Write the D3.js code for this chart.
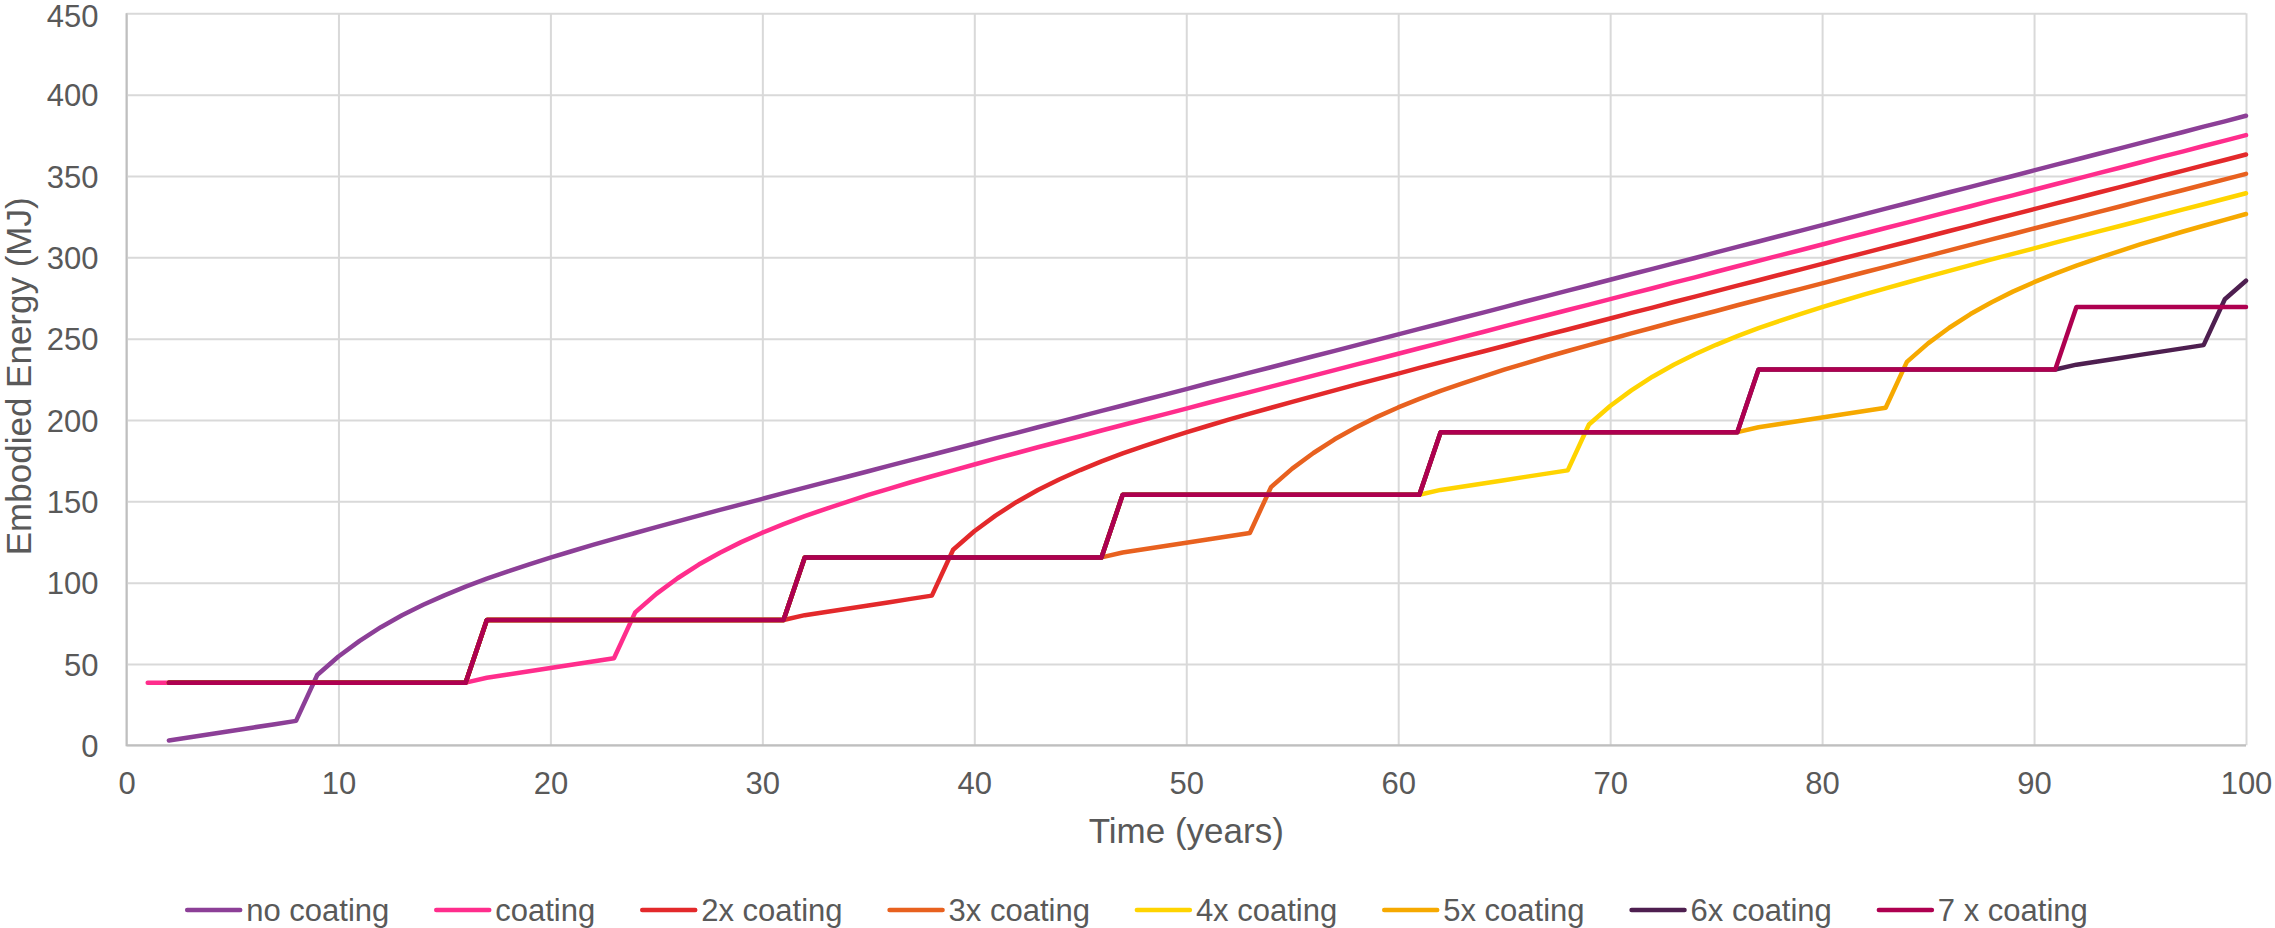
<!DOCTYPE html>
<html lang="en">
<head>
<meta charset="UTF-8">
<title>Embodied Energy</title>
<script src="https://cdn.jsdelivr.net/npm/d3@7"></script>
<style>
  body { margin: 0; background: #ffffff; }
  text { font-family: "Liberation Sans", Arial, sans-serif; fill: #595959; }
</style>
</head>
<body>
<svg width="2275" height="928"></svg>

<script>
// years on the x axis
var years = [
  1, 2, 3, 4, 5, 6, 7, 8, 9, 10, 11, 12, 13, 14, 15, 16, 17, 18, 19, 20,
  21, 22, 23, 24, 25, 26, 27, 28, 29, 30, 31, 32, 33, 34, 35, 36, 37, 38, 39, 40,
  41, 42, 43, 44, 45, 46, 47, 48, 49, 50, 51, 52, 53, 54, 55, 56, 57, 58, 59, 60,
  61, 62, 63, 64, 65, 66, 67, 68, 69, 70, 71, 72, 73, 74, 75, 76, 77, 78, 79, 80,
  81, 82, 83, 84, 85, 86, 87, 88, 89, 90, 91, 92, 93, 94, 95, 96, 97, 98, 99, 100
];

var xTicks = [0, 10, 20, 30, 40, 50, 60, 70, 80, 90, 100];
var yTicks = [0, 50, 100, 150, 200, 250, 300, 350, 400, 450];

var seriesNames = ["no coating", "coating", "2x coating", "3x coating", "4x coating", "5x coating", "6x coating", "7 x coating"];
var seriesColors = ["#8c3f97", "#ff2d8c", "#e3292b", "#e8611f", "#ffd400", "#f6a900", "#4e1f50", "#ae0050"];

// one value per year, null where the series has no point
var noCoating = [
  null, 3, 5, 7, 9, 11, 13, 15, 43.2, 54.6,
  64.2, 72.6, 79.9, 86.4, 92.2, 97.5, 102.4, 106.9, 111.2, 115.4,
  119.3, 123.2, 126.9, 130.5, 134.1, 137.7, 141.2, 144.7, 148.1, 151.5,
  155.0, 158.4, 161.8, 165.1, 168.5, 171.9, 175.3, 178.6, 182.0, 185.4,
  188.8, 192.1, 195.5, 198.8, 202.2, 205.6, 208.9, 212.3, 215.6, 219.0,
  222.4, 225.7, 229.1, 232.4, 235.8, 239.2, 242.5, 245.9, 249.2, 252.6,
  256.0, 259.3, 262.7, 266.0, 269.4, 272.8, 276.1, 279.5, 282.8, 286.2,
  289.6, 292.9, 296.3, 299.6, 303.0, 306.4, 309.7, 313.1, 316.4, 319.8,
  323.2, 326.5, 329.9, 333.2, 336.6, 340.0, 343.3, 346.7, 350.0, 353.4,
  356.8, 360.1, 363.5, 366.8, 370.2, 373.6, 376.9, 380.3, 383.6, 387.0
];

var coating = [
  38.5, 38.5, 38.5, 38.5, 38.5, 38.5, 38.5, 38.5, 38.5, 38.5,
  38.5, 38.5, 38.5, 38.5, 38.5, 38.5, 41.5, 43.5, 45.5, 47.5,
  49.5, 51.5, 53.5, 81.7, 93.1, 102.7, 111.1, 118.4, 124.9, 130.7,
  136.0, 140.9, 145.4, 149.7, 153.9, 157.8, 161.7, 165.4, 169.0, 172.6,
  176.2, 179.7, 183.2, 186.6, 190.0, 193.5, 196.9, 200.3, 203.6, 207.0,
  210.4, 213.8, 217.1, 220.5, 223.9, 227.3, 230.6, 234.0, 237.3, 240.7,
  244.1, 247.4, 250.8, 254.1, 257.5, 260.9, 264.2, 267.6, 270.9, 274.3,
  277.7, 281.0, 284.4, 287.7, 291.1, 294.5, 297.8, 301.2, 304.5, 307.9,
  311.3, 314.6, 318.0, 321.3, 324.7, 328.1, 331.4, 334.8, 338.1, 341.5,
  344.9, 348.2, 351.6, 354.9, 358.3, 361.7, 365.0, 368.4, 371.7, 375.1
];

var coating2x = [
  null, 38.5, 38.5, 38.5, 38.5, 38.5, 38.5, 38.5, 38.5, 38.5,
  38.5, 38.5, 38.5, 38.5, 38.5, 38.5, 77, 77, 77, 77,
  77, 77, 77, 77, 77, 77, 77, 77, 77, 77,
  77, 80, 82, 84, 86, 88, 90, 92, 120.2, 131.6,
  141.2, 149.6, 156.9, 163.4, 169.2, 174.5, 179.4, 183.9, 188.2, 192.4,
  196.3, 200.2, 203.9, 207.5, 211.1, 214.7, 218.2, 221.7, 225.1, 228.5,
  232.0, 235.4, 238.8, 242.1, 245.5, 248.9, 252.3, 255.6, 259.0, 262.4,
  265.8, 269.1, 272.5, 275.8, 279.2, 282.6, 285.9, 289.3, 292.6, 296.0,
  299.4, 302.7, 306.1, 309.4, 312.8, 316.2, 319.5, 322.9, 326.2, 329.6,
  333.0, 336.3, 339.7, 343.0, 346.4, 349.8, 353.1, 356.5, 359.8, 363.2
];

var coating3x = [
  null, 38.5, 38.5, 38.5, 38.5, 38.5, 38.5, 38.5, 38.5, 38.5,
  38.5, 38.5, 38.5, 38.5, 38.5, 38.5, 77, 77, 77, 77,
  77, 77, 77, 77, 77, 77, 77, 77, 77, 77,
  77, 115.5, 115.5, 115.5, 115.5, 115.5, 115.5, 115.5, 115.5, 115.5,
  115.5, 115.5, 115.5, 115.5, 115.5, 115.5, 118.5, 120.5, 122.5, 124.5,
  126.5, 128.5, 130.5, 158.7, 170.1, 179.7, 188.1, 195.4, 201.9, 207.7,
  213.0, 217.9, 222.4, 226.7, 230.9, 234.8, 238.7, 242.4, 246.0, 249.6,
  253.2, 256.7, 260.2, 263.6, 267.0, 270.5, 273.9, 277.3, 280.6, 284.0,
  287.4, 290.8, 294.1, 297.5, 300.9, 304.3, 307.6, 311.0, 314.3, 317.7,
  321.1, 324.4, 327.8, 331.1, 334.5, 337.9, 341.2, 344.6, 347.9, 351.3
];

var coating4x = [
  null, 38.5, 38.5, 38.5, 38.5, 38.5, 38.5, 38.5, 38.5, 38.5,
  38.5, 38.5, 38.5, 38.5, 38.5, 38.5, 77, 77, 77, 77,
  77, 77, 77, 77, 77, 77, 77, 77, 77, 77,
  77, 115.5, 115.5, 115.5, 115.5, 115.5, 115.5, 115.5, 115.5, 115.5,
  115.5, 115.5, 115.5, 115.5, 115.5, 115.5, 154, 154, 154, 154,
  154, 154, 154, 154, 154, 154, 154, 154, 154, 154,
  154, 157, 159, 161, 163, 165, 167, 169, 197.2, 208.6,
  218.2, 226.6, 233.9, 240.4, 246.2, 251.5, 256.4, 260.9, 265.2, 269.4,
  273.3, 277.2, 280.9, 284.5, 288.1, 291.7, 295.2, 298.7, 302.1, 305.5,
  309.0, 312.4, 315.8, 319.1, 322.5, 325.9, 329.3, 332.6, 336.0, 339.4
];

var coating5x = [
  null, 38.5, 38.5, 38.5, 38.5, 38.5, 38.5, 38.5, 38.5, 38.5,
  38.5, 38.5, 38.5, 38.5, 38.5, 38.5, 77, 77, 77, 77,
  77, 77, 77, 77, 77, 77, 77, 77, 77, 77,
  77, 115.5, 115.5, 115.5, 115.5, 115.5, 115.5, 115.5, 115.5, 115.5,
  115.5, 115.5, 115.5, 115.5, 115.5, 115.5, 154, 154, 154, 154,
  154, 154, 154, 154, 154, 154, 154, 154, 154, 154,
  154, 192.5, 192.5, 192.5, 192.5, 192.5, 192.5, 192.5, 192.5, 192.5,
  192.5, 192.5, 192.5, 192.5, 192.5, 192.5, 195.5, 197.5, 199.5, 201.5,
  203.5, 205.5, 207.5, 235.7, 247.1, 256.7, 265.1, 272.4, 278.9, 284.7,
  290.0, 294.9, 299.4, 303.7, 307.9, 311.8, 315.7, 319.4, 323.0, 326.6
];

var coating6x = [
  null, 38.5, 38.5, 38.5, 38.5, 38.5, 38.5, 38.5, 38.5, 38.5,
  38.5, 38.5, 38.5, 38.5, 38.5, 38.5, 77, 77, 77, 77,
  77, 77, 77, 77, 77, 77, 77, 77, 77, 77,
  77, 115.5, 115.5, 115.5, 115.5, 115.5, 115.5, 115.5, 115.5, 115.5,
  115.5, 115.5, 115.5, 115.5, 115.5, 115.5, 154, 154, 154, 154,
  154, 154, 154, 154, 154, 154, 154, 154, 154, 154,
  154, 192.5, 192.5, 192.5, 192.5, 192.5, 192.5, 192.5, 192.5, 192.5,
  192.5, 192.5, 192.5, 192.5, 192.5, 192.5, 231, 231, 231, 231,
  231, 231, 231, 231, 231, 231, 231, 231, 231, 231,
  231, 234, 236, 238, 240, 242, 244, 246, 274.2, 285.6
];

var coating7x = [
  null, 38.5, 38.5, 38.5, 38.5, 38.5, 38.5, 38.5, 38.5, 38.5,
  38.5, 38.5, 38.5, 38.5, 38.5, 38.5, 77, 77, 77, 77,
  77, 77, 77, 77, 77, 77, 77, 77, 77, 77,
  77, 115.5, 115.5, 115.5, 115.5, 115.5, 115.5, 115.5, 115.5, 115.5,
  115.5, 115.5, 115.5, 115.5, 115.5, 115.5, 154, 154, 154, 154,
  154, 154, 154, 154, 154, 154, 154, 154, 154, 154,
  154, 192.5, 192.5, 192.5, 192.5, 192.5, 192.5, 192.5, 192.5, 192.5,
  192.5, 192.5, 192.5, 192.5, 192.5, 192.5, 231, 231, 231, 231,
  231, 231, 231, 231, 231, 231, 231, 231, 231, 231,
  231, 269.5, 269.5, 269.5, 269.5, 269.5, 269.5, 269.5, 269.5, 269.5
];

var seriesValues = [noCoating, coating, coating2x, coating3x, coating4x, coating5x, coating6x, coating7x];

var svg = d3.select("svg");
var W = 2275;
var plotLeft = 126.5, plotRight = 2246, plotTop = 13.3, plotBottom = 745.3;

svg.append("rect").attr("width", W).attr("height", 928).attr("fill", "#ffffff");

//Scales
var x = d3.scaleLinear().domain([0, 100]).range([plotLeft, plotRight]);
var y = d3.scaleLinear().domain([0, 450]).range([plotBottom, plotTop]);

//Y axis + horizontal gridlines
var yAxis = svg.append("g")
    .attr("transform", "translate(" + plotLeft + ",0)")
    .call(d3.axisLeft(y).tickValues(yTicks).tickSize(-(plotRight - plotLeft)).tickPadding(28));
yAxis.select(".domain").remove();
yAxis.selectAll("line").attr("stroke", "#d9d9d9").attr("stroke-width", 2);
yAxis.selectAll("text").attr("font-size", 31).attr("fill", "#595959")
    .attr("font-family", "Liberation Sans, Arial, sans-serif").attr("dy", "0.36em");
// keep the top label inside the picture
yAxis.selectAll(".tick").filter(function(d) { return d === 450; }).select("text").attr("dy", "0.42em");

//X axis + vertical gridlines
var xAxis = svg.append("g")
    .attr("transform", "translate(0," + plotBottom + ")")
    .call(d3.axisBottom(x).tickValues(xTicks).tickSize(-(plotBottom - plotTop)).tickPadding(27));
xAxis.select(".domain").remove();
xAxis.selectAll("line").attr("stroke", "#d9d9d9").attr("stroke-width", 2);
xAxis.selectAll("text").attr("font-size", 31).attr("fill", "#595959")
    .attr("font-family", "Liberation Sans, Arial, sans-serif");

// axis lines
svg.append("path")
    .attr("d", "M" + plotLeft + "," + plotTop + " L" + plotLeft + "," + plotBottom + " L" + plotRight + "," + plotBottom)
    .attr("fill", "none")
    .attr("stroke", "#bfbfbf")
    .attr("stroke-width", 2);

//Lines
var line = d3.line()
    .defined(function(d) { return d[1] != null; })
    .x(function(d) { return x(d[0]); })
    .y(function(d) { return y(d[1]); });

svg.append("g")
    .selectAll("path")
    .data(seriesValues)
    .join("path")
    .attr("d", function(vals) { return line(years.map(function(yr, i) { return [yr, vals[i]]; })); })
    .attr("fill", "none")
    .attr("stroke", function(d, i) { return seriesColors[i]; })
    .attr("stroke-width", 4.5)
    .attr("stroke-linejoin", "round")
    .attr("stroke-linecap", "round");

//Axis titles
svg.append("text")
    .attr("x", (plotLeft + plotRight) / 2)
    .attr("y", 843)
    .attr("text-anchor", "middle")
    .attr("font-size", 35)
    .text("Time (years)");

svg.append("text")
    .attr("transform", "translate(31," + ((plotTop + plotBottom) / 2 - 3) + ") rotate(-90)")
    .attr("text-anchor", "middle")
    .attr("font-size", 35)
    .text("Embodied Energy (MJ)");

//Legend
var legend = svg.append("g");
var items = legend.selectAll("g")
    .data(seriesNames)
    .join("g");
items.append("line")
    .attr("x1", 0).attr("x2", 53)
    .attr("y1", 0).attr("y2", 0)
    .attr("stroke", function(d, i) { return seriesColors[i]; })
    .attr("stroke-width", 4.5)
    .attr("stroke-linecap", "round");
items.append("text")
    .attr("x", 59)
    .attr("y", 0)
    .attr("dy", "0.35em")
    .attr("font-size", 31)
    .text(function(d) { return d; });

var gap = 47;
var pos = 0;
items.each(function() {
    var g = d3.select(this);
    var w = 59 + g.select("text").node().getComputedTextLength();
    g.attr("transform", "translate(" + pos + ",0)");
    pos += w + gap;
});
var total = pos - gap;
legend.attr("transform", "translate(" + (W / 2 - total / 2) + ",910)");
</script>
</body>
</html>
